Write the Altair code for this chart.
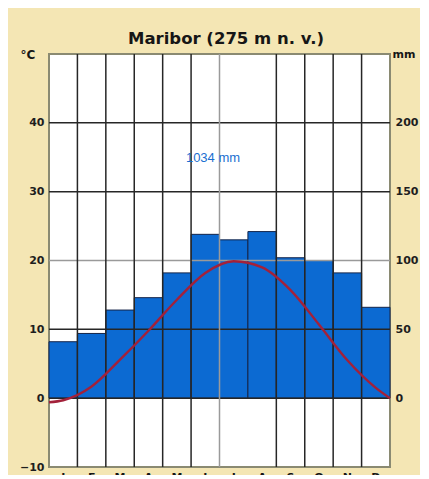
import altair as alt
import pandas as pd

# ---- data ----
months = ["J", "F", "M", "A", "M", "J", "J", "A", "S", "O", "N", "D"]
precip_mm = [41, 47, 64, 73, 91, 119, 115, 121, 102, 100, 91, 66]
temp_pos = [0, 0.5, 1.5, 2.5, 3.5, 4.5, 5.5, 6.5, 7.5, 8.5, 9.5, 10.5, 11.5, 12]
temp_c = [-0.6, -0.3, 1.7, 5.6, 9.8, 14.3, 18.2, 19.9, 19.0, 15.7, 10.7, 5.5, 1.5, 0.0]
hgrid_vals = [0, 10, 20, 30, 40]
hgrid_kind = ["dark", "dark", "grey", "dark", "dark"]
vgrid_vals = [1, 2, 3, 4, 5, 6, 8, 9, 10, 11]
vgrid_kind = ["dark", "dark", "dark", "dark", "dark", "grey", "dark", "dark", "dark", "dark"]
total_text = "1034 mm"
title_text = "Maribor (275 m n. v.)"

W, H = 341, 413
BG = "#f4e6b4"
FONT = "Liberation Sans"
BFONT = "DejaVu Sans"

bars_df = pd.DataFrame({
    "start": list(range(12)),
    "end": [i + 1 for i in range(12)],
    "mm": precip_mm,
    "base": [0] * 12,
})
temp_df = pd.DataFrame({"x": temp_pos, "t": temp_c})
hgrid_df = pd.DataFrame({"v": hgrid_vals, "kind": hgrid_kind})
vgrid_df = pd.DataFrame({"v": vgrid_vals, "kind": vgrid_kind})
month_df = pd.DataFrame({"x": [i + 0.5 for i in range(12)], "m": months})

xs = alt.Scale(domain=[0, 12], nice=False, zero=False)
ys_c = alt.Scale(domain=[-10, 50], nice=False, zero=False)
ys_mm = alt.Scale(domain=[-50, 250], nice=False, zero=False)

kind_color = alt.Color("kind:N", scale=alt.Scale(domain=["dark", "grey"], range=["#262626", "#9a9a9a"]), legend=None)

bars = alt.Chart(bars_df).mark_rect(color="#0c6ad2", stroke="#14254a", strokeWidth=1).encode(
    x=alt.X("start:Q", scale=xs, axis=None),
    x2="end:Q",
    y=alt.Y("mm:Q", scale=ys_mm,
            axis=alt.Axis(orient="right", values=[0, 50, 100, 150, 200], grid=False, ticks=False,
                          domain=False, labelFont=BFONT, labelFontSize=11, labelFontWeight="bold",
                          labelColor="#1e1e1e", labelPadding=5, title=None)),
    y2="base:Q",
)

hgrid = alt.Chart(hgrid_df).mark_rule(strokeWidth=1.5).encode(
    y=alt.Y("v:Q", scale=ys_c, axis=None),
    color=kind_color,
)

vgrid = alt.Chart(vgrid_df).mark_rule(strokeWidth=1.5).encode(
    x=alt.X("v:Q", scale=xs, axis=None),
    color=kind_color,
)

line = alt.Chart(temp_df).mark_line(color="#a3213a", strokeWidth=2.4, interpolate="monotone").encode(
    x=alt.X("x:Q", scale=xs, axis=None),
    y=alt.Y("t:Q", scale=ys_c,
            axis=alt.Axis(orient="left", values=[-10, 0, 10, 20, 30, 40], grid=False, ticks=False,
                          domain=False, labelFont=BFONT, labelFontSize=11, labelFontWeight="bold",
                          labelColor="#1e1e1e", labelPadding=5, title=None)),
)

total = alt.Chart(pd.DataFrame({"s": [total_text]})).mark_text(
    font=FONT, fontSize=13, color="#1a6fd0", align="center", baseline="middle"
).encode(x=alt.value(164), y=alt.value(104), text="s:N")

title = alt.Chart(pd.DataFrame({"s": [title_text]})).mark_text(
    font=BFONT, fontSize=16.5, fontWeight="bold", color="#161616", align="center", baseline="middle"
).encode(x=alt.value(177), y=alt.value(-15), text="s:N")

unit_c = alt.Chart(pd.DataFrame({"s": ["°C"]})).mark_text(
    font=BFONT, fontSize=12, fontWeight="bold", color="#161616", align="center", baseline="middle"
).encode(x=alt.value(-21), y=alt.value(1), text="s:N")

unit_mm = alt.Chart(pd.DataFrame({"s": ["mm"]})).mark_text(
    font=BFONT, fontSize=11, fontWeight="bold", color="#161616", align="center", baseline="middle"
).encode(x=alt.value(355), y=alt.value(1), text="s:N")

month_lbl = alt.Chart(month_df).mark_text(
    font=BFONT, fontSize=11, fontWeight="bold", color="#161616", align="center", baseline="top"
).encode(x=alt.X("x:Q", scale=xs, axis=None), y=alt.value(H + 5), text="m:N")

chart = alt.layer(bars, hgrid, vgrid, line, total, title, unit_c, unit_mm, month_lbl).resolve_scale(
    y="independent"
).properties(
    width=W, height=H, background=BG,
    padding={"left": 41, "top": 46, "right": 30, "bottom": 8},
    autosize=alt.AutoSizeParams(type="none"),
).configure_view(fill="white", stroke="#8a8a72", strokeWidth=2)

chart.save("out.html", embed_options={"renderer": "svg", "actions": False})
